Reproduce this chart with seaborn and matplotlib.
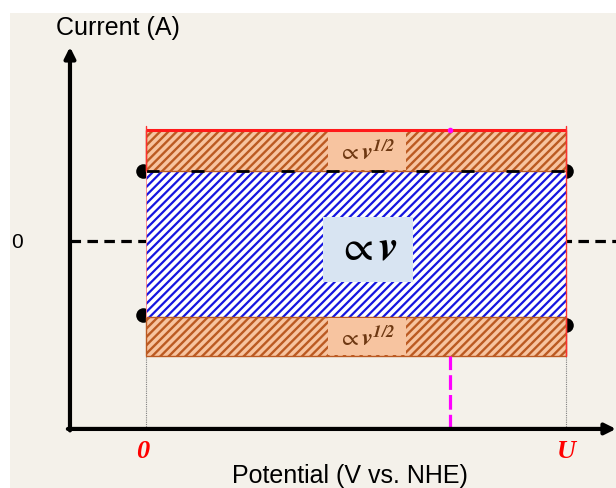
import matplotlib
matplotlib.use("Agg")
import matplotlib.pyplot as plt
import seaborn as sns
import pandas as pd

# ---- data (schematic units: potential 0..U=1, current arbitrary) ----
potential_labels = ["0", "U"]
potential_values = [0.0, 1.0]
magenta_potential = 0.724
capacitive_current = [-1.04, 0.96]      # blue region (proportional to v)
diffusion_top = [0.96, 1.52]            # upper orange band (proportional to v^1/2)
diffusion_bottom = [-1.575, -1.04]      # lower orange band
dot_potentials = [-0.007, 1.0, -0.007, 1.0]
dot_currents = [0.96, 0.96, -1.01, -1.15]
zero_current = 0.0
x_axis_span = [-0.186, 1.119]
y_axis_span = [-2.575, 2.658]
blue_box_x = [0.421, 0.636]
blue_box_y = [-0.562, 0.329]
orange_box_x = [0.433, 0.619]
y_label = "Current (A)"
x_label = "Potential (V vs. NHE)"
y_tick_label = "0"

sns.set_theme(style="white")
plt.rcParams["font.family"] = ["Liberation Sans", "DejaVu Sans"]
plt.rcParams["mathtext.fontset"] = "stix"

BG = "#f4f1ea"
BLUE = "#1515e0"
PEACH = "#f7c4a0"
HATCH_OR = "#bb5a22"
BROWN_TXT = "#6e3812"

fig = plt.figure(figsize=(6.16, 4.89), dpi=100, facecolor="white")
ax = fig.add_axes([10 / 616, 0, 606 / 616, 475 / 489])
ax.set_facecolor(BG)
ax.set_xlim(-0.3238, 1.119)
ax.set_ylim(-3.384, 3.123)
for s in ax.spines.values():
    s.set_visible(False)
ax.set_xticks([])
ax.set_yticks([])

U0, U1 = potential_values
width = U1 - U0

# zero-current dashed line (behind regions)
ax.plot([x_axis_span[0] + 0.005, x_axis_span[1]], [zero_current, zero_current],
        color="black", lw=2.3, dashes=(3.3, 2.0), zorder=1)

# dots (partly hidden by regions)
dots = pd.DataFrame({"potential": dot_potentials, "current": dot_currents})
sns.scatterplot(data=dots, x="potential", y="current", ax=ax, color="black",
                s=110, edgecolor="black", linewidth=0, zorder=2, legend=False)

# blue capacitive region
with plt.rc_context({"hatch.linewidth": 1.6}):
    ax.bar(U0, capacitive_current[1] - capacitive_current[0], width=width,
           bottom=capacitive_current[0], align="edge", facecolor="white",
           edgecolor=BLUE, hatch="////", linewidth=0, zorder=3)

# orange diffusion bands
with plt.rc_context({"hatch.linewidth": 1.7}):
    for band in (diffusion_top, diffusion_bottom):
        ax.bar(U0, band[1] - band[0], width=width, bottom=band[0], align="edge",
               facecolor=PEACH, edgecolor=HATCH_OR, hatch="////", linewidth=1.0,
               zorder=3)

# label boxes
ax.bar(blue_box_x[0], blue_box_y[1] - blue_box_y[0],
       width=blue_box_x[1] - blue_box_x[0], bottom=blue_box_y[0], align="edge",
       color="#d8e4f2", linewidth=0, zorder=4)
for band in (diffusion_top, diffusion_bottom):
    ax.bar(orange_box_x[0], band[1] - band[0] - 0.03,
           width=orange_box_x[1] - orange_box_x[0], bottom=band[0] + 0.015,
           align="edge", color=PEACH, linewidth=0, zorder=4)

# texts in boxes
ax.text(sum(blue_box_x) / 2, sum(blue_box_y) / 2 + 0.03, r"$\propto\mathbfit{v}$",
        fontsize=31, ha="center", va="center", color="black", zorder=6)
for band in (diffusion_top, diffusion_bottom):
    ax.text(sum(orange_box_x) / 2, sum(band) / 2 - 0.02,
            r"$\propto\mathbfit{v}^{\mathbfit{1/2}}$",
            fontsize=17.5, ha="center", va="center", color=BROWN_TXT, zorder=6)

# dashed line on top of blue region
ax.plot([U0, U1], [capacitive_current[1], capacitive_current[1]],
        color="black", lw=2.0, dashes=(4.7, 11.5), zorder=5)

# red top edge and side edges
ax.plot([U0, U1], [diffusion_top[1], diffusion_top[1]], color="#ff1a1a",
        lw=2.2, zorder=6, solid_capstyle="butt")
ax.plot([U1, U1], [diffusion_bottom[0], diffusion_top[1] + 0.06],
        color="#ff3030", lw=1.0, zorder=6)
ax.plot([U0, U0], [diffusion_top[0], diffusion_top[1] + 0.06],
        color="#ff3030", lw=1.0, zorder=6)
ax.plot([U0, U0], [capacitive_current[0], capacitive_current[1]],
        color="#ff8080", lw=0.6, zorder=6)

# grey dotted guides
for xv in potential_values:
    ax.plot([xv, xv], [y_axis_span[0], diffusion_bottom[0]], color="#808080",
            lw=0.8, ls=(0, (1, 1)), zorder=2)

# magenta dashed marker
ax.plot([magenta_potential, magenta_potential], [y_axis_span[0], diffusion_bottom[0]],
        color="#ff00ff", lw=2.3, dashes=(4.6, 1.6), zorder=5)
ax.plot([magenta_potential], [diffusion_top[1]], marker="o", ms=3,
        color="#ff00ff", zorder=7)

# axes with arrows
ax.annotate("", xy=(x_axis_span[1], y_axis_span[0]),
            xytext=(x_axis_span[0], y_axis_span[0]),
            arrowprops=dict(arrowstyle="-|>", lw=3, color="black",
                            mutation_scale=16, shrinkA=0, shrinkB=0), zorder=8)
ax.annotate("", xy=(x_axis_span[0] + 0.005, y_axis_span[1]),
            xytext=(x_axis_span[0] + 0.005, y_axis_span[0] - 0.02),
            arrowprops=dict(arrowstyle="-|>", lw=3, color="black",
                            mutation_scale=16, shrinkA=0, shrinkB=0), zorder=8)

# axis labels
ax.text(-0.0667, 2.93, y_label, fontsize=18, ha="center", va="center",
        color="black")
ax.text(0.4857, -3.2, x_label, fontsize=18, ha="center", va="center",
        color="black")
ax.text(-0.307, -0.01, y_tick_label, fontsize=15, ha="center", va="center",
        color="black")

for xv, lab in zip(potential_values, potential_labels):
    ax.text(xv - 0.008 if lab == "0" else xv, -2.87, lab, fontsize=19,
            family=["Liberation Serif", "DejaVu Serif"], style="italic",
            weight="bold", color="#ff0000", ha="center", va="center")

fig.savefig("out.png", dpi=100, facecolor="white")
